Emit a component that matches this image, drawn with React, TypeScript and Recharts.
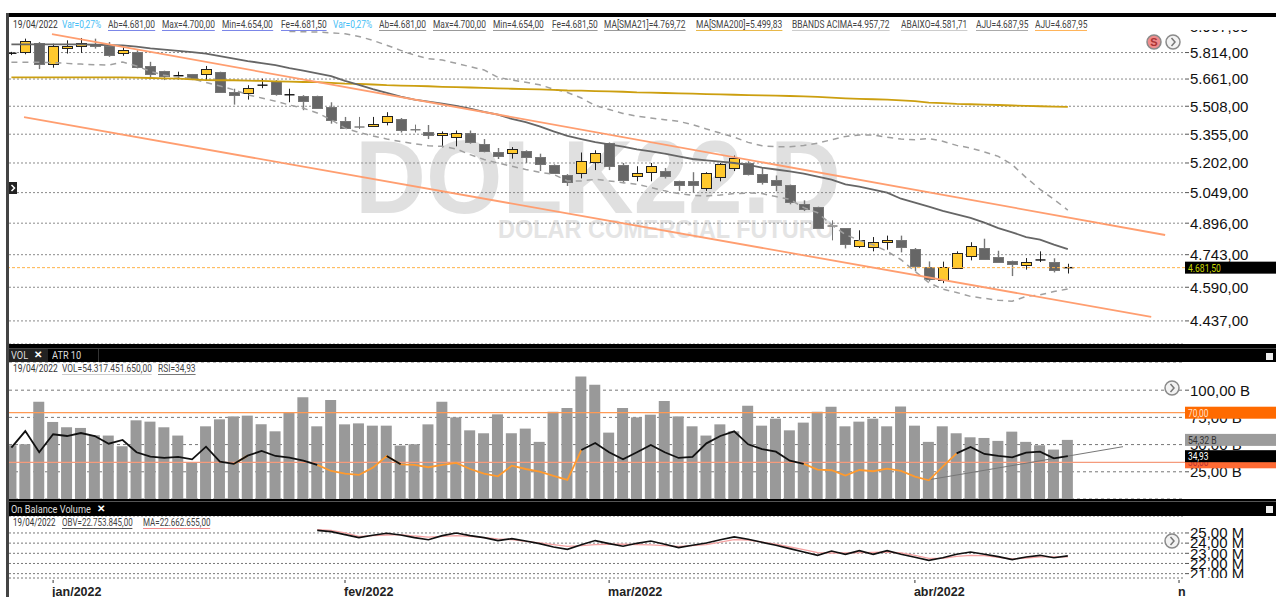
import {
  Bar,
  CartesianGrid,
  ComposedChart,
  Line,
  ReferenceLine,
  XAxis,
  YAxis,
} from 'recharts'

const opens = [5806, 5816, 5872, 5747, 5837, 5855, 5862, 5853, 5808, 5816, 5734, 5707, 5676, 5690, 5688, 5699, 5585, 5580, 5622, 5650, 5565, 5567, 5565, 5506, 5427, 5394, 5397, 5421, 5438, 5379, 5366, 5348, 5341, 5362, 5302, 5260, 5251, 5265, 5232, 5192, 5141, 5151, 5206, 5309, 5193, 5131, 5156, 5160, 5107, 5107, 5069, 5129, 5176, 5202, 5144, 5114, 5086, 4991, 4976, 4882, 4870, 4783, 4780, 4803, 4814, 4770, 4686, 4625, 4680, 4735, 4773, 4734, 4711, 4694, 4711, 4708, 4681]
const closes = [5810, 5880, 5751, 5853, 5851, 5870, 5851, 5799, 5827, 5726, 5690, 5678, 5680, 5665, 5716, 5587, 5567, 5608, 5626, 5578, 5572, 5541, 5499, 5434, 5390, 5388, 5410, 5453, 5379, 5375, 5348, 5359, 5361, 5315, 5263, 5237, 5274, 5234, 5197, 5151, 5103, 5214, 5255, 5187, 5114, 5149, 5187, 5134, 5088, 5088, 5148, 5195, 5229, 5144, 5103, 5088, 4998, 4964, 4872, 4878, 4791, 4814, 4803, 4812, 4778, 4691, 4631, 4685, 4751, 4783, 4722, 4711, 4696, 4710, 4718, 4669, 4681.5]
const highs = [5818, 5896, 5876, 5866, 5886, 5900, 5896, 5876, 5847, 5827, 5760, 5709, 5703, 5690, 5736, 5703, 5606, 5626, 5663, 5655, 5606, 5570, 5567, 5530, 5449, 5449, 5449, 5475, 5443, 5407, 5405, 5370, 5375, 5375, 5329, 5281, 5286, 5269, 5251, 5195, 5144, 5257, 5269, 5311, 5202, 5185, 5202, 5176, 5110, 5154, 5154, 5202, 5241, 5211, 5176, 5137, 5090, 5010, 4978, 4910, 4872, 4861, 4828, 4835, 4835, 4775, 4711, 4710, 4759, 4803, 4820, 4762, 4715, 4727, 4759, 4726, 4700]
const lows = [5799, 5804, 5718, 5726, 5808, 5812, 5837, 5789, 5795, 5722, 5671, 5655, 5659, 5655, 5652, 5585, 5517, 5545, 5609, 5567, 5530, 5486, 5495, 5412, 5383, 5383, 5394, 5403, 5364, 5364, 5329, 5285, 5290, 5304, 5258, 5223, 5225, 5202, 5160, 5148, 5083, 5122, 5165, 5165, 5097, 5107, 5107, 5121, 5058, 5049, 5058, 5107, 5160, 5137, 5090, 5056, 4990, 4956, 4869, 4812, 4773, 4775, 4759, 4767, 4754, 4664, 4617, 4609, 4675, 4716, 4719, 4704, 4642, 4672, 4708, 4659, 4654]

const sma21 = [5862, 5862, 5862, 5862, 5862, 5862, 5860, 5858, 5856, 5849, 5839, 5831, 5824, 5816, 5808, 5793, 5778, 5764, 5753, 5741, 5724, 5709, 5694, 5678, 5650, 5628, 5604, 5582, 5561, 5545, 5534, 5523, 5510, 5495, 5477, 5462, 5438, 5420, 5397, 5370, 5346, 5329, 5313, 5300, 5288, 5274, 5263, 5251, 5237, 5223, 5216, 5209, 5202, 5192, 5178, 5168, 5158, 5146, 5131, 5115, 5091, 5080, 5064, 5049, 5018, 4998, 4978, 4957, 4939, 4922, 4899, 4872, 4851, 4828, 4816, 4791, 4770]
const sma200 = [5671, 5671, 5671, 5671, 5671, 5671, 5671, 5671, 5671, 5669, 5667, 5665, 5663, 5659, 5655, 5654, 5654, 5652, 5650, 5648, 5646, 5644, 5643, 5639, 5635, 5633, 5630, 5626, 5624, 5622, 5620, 5617, 5615, 5613, 5611, 5608, 5606, 5604, 5602, 5600, 5596, 5595, 5593, 5591, 5589, 5585, 5584, 5582, 5580, 5578, 5576, 5574, 5572, 5570, 5569, 5567, 5565, 5563, 5560, 5556, 5552, 5549, 5547, 5545, 5541, 5536, 5528, 5525, 5521, 5519, 5517, 5515, 5512, 5510, 5508, 5506, 5504]
const bbUpper = [null, null, null, null, null, null, null, null, null, null, null, null, null, null, null, null, null, null, null, null, 5939, 5937, 5935, 5931, 5925, 5909, 5886, 5857, 5827, 5799, 5778, 5770, 5751, 5732, 5713, 5671, 5655, 5643, 5628, 5604, 5585, 5554, 5512, 5490, 5468, 5453, 5443, 5434, 5425, 5407, 5383, 5361, 5339, 5311, 5293, 5288, 5288, 5295, 5307, 5325, 5343, 5351, 5351, 5339, 5329, 5325, 5332, 5317, 5295, 5281, 5260, 5237, 5193, 5126, 5066, 5015, 4961]
const bbLower = [5757, 5757, 5757, 5755, 5751, 5747, 5743, 5741, 5759, 5736, 5705, 5682, 5673, 5663, 5641, 5622, 5600, 5572, 5554, 5536, 5515, 5497, 5471, 5434, 5388, 5364, 5346, 5329, 5315, 5304, 5293, 5290, 5276, 5246, 5220, 5202, 5185, 5168, 5154, 5143, 5109, 5109, 5117, 5109, 5100, 5092, 5075, 5058, 5044, 5035, 5032, 5037, 5044, 5047, 5044, 5029, 5015, 4973, 4948, 4888, 4840, 4812, 4791, 4759, 4719, 4664, 4612, 4581, 4566, 4548, 4539, 4530, 4526, 4548, 4555, 4570, 4582]

const volumes = [49.4, 50.3, 89.4, 70.8, 65.9, 65.3, 58.6, 58.3, 48.5, 72.3, 71.1, 65.9, 58.3, 33.9, 66.8, 73.2, 75.9, 76.6, 68.6, 62.2, 79, 93.6, 66.8, 90.9, 68.6, 69.5, 67.4, 67.4, 49.1, 50.3, 68.6, 89.4, 75, 63.1, 60.4, 77.8, 60.4, 64.7, 52.5, 80.2, 83.6, 112.5, 104.9, 61, 83.6, 75, 77.5, 90, 75.9, 66.8, 58.3, 68.6, 62.2, 85.7, 67.4, 73.8, 63.1, 70.2, 80.2, 84.8, 66.8, 71.1, 73.8, 66.8, 85.1, 67.4, 52.5, 66.8, 60.4, 56.7, 56.1, 53.4, 61.9, 52.5, 49.4, 45.4, 54.32]
const rsi = [41.8, 55.2, 38.1, 52.6, 51.2, 53.6, 51.2, 45, 48, 38.1, 34.6, 33.5, 34.3, 32.4, 42.6, 30.5, 28.7, 35.4, 39.1, 35.1, 33.8, 31.3, 27.9, 23, 20.9, 19.8, 25.7, 35.1, 28.4, 27.9, 26, 27.9, 29.5, 24.6, 20.9, 18.7, 27.3, 24.6, 22.5, 19, 15.8, 39.9, 45.6, 38.1, 32.4, 38.1, 44, 38.1, 33.5, 34.3, 45.3, 51.2, 55, 44.5, 40.7, 38.6, 31.3, 28.7, 24.1, 23.6, 19.3, 23.8, 22.8, 24.9, 23, 18.5, 15.5, 26.5, 37.2, 42.3, 36.7, 35.1, 34, 37.8, 38.6, 33.2, 34.93]

const obvStart = 22
const obv = [25.26, 25.13, 24.84, 24.54, 24.77, 24.97, 24.8, 24.54, 24.34, 24.74, 25, 24.74, 24.54, 24.25, 24.44, 24.21, 23.95, 23.62, 23.39, 23.85, 24.25, 23.95, 23.69, 23.98, 24.21, 23.89, 23.56, 23.79, 24.02, 24.34, 24.61, 24.38, 24.08, 23.79, 23.46, 23.13, 22.8, 23.23, 22.9, 23.26, 22.9, 23.26, 22.9, 22.61, 22.31, 22.57, 22.9, 23.13, 22.9, 22.67, 22.38, 22.64, 22.8, 22.57, 22.75]
const obvMa = [25.33, 25.26, 25, 24.67, 24.74, 24.8, 24.84, 24.7, 24.6, 24.67, 24.74, 24.67, 24.54, 24.41, 24.34, 24.18, 24.02, 23.85, 23.69, 23.75, 23.85, 23.89, 23.89, 23.85, 23.82, 23.75, 23.69, 23.75, 23.85, 24.11, 24.34, 24.31, 24.11, 23.89, 23.62, 23.36, 23.07, 23.03, 23.03, 23.07, 23.1, 23.13, 23.03, 22.8, 22.51, 22.51, 22.7, 22.8, 22.77, 22.61, 22.44, 22.54, 22.64, 22.64, 22.66]

const priceTicks = [5967, 5814, 5661, 5508, 5355, 5202, 5049, 4896, 4743, 4590, 4437]
const volumeTicks = [25, 50, 75, 100]
const obvTicks = [21, 22, 23, 24, 25]
const monthTicks = [3, 24, 43, 65, 84]
const monthLabels = ['jan/2022', 'fev/2022', 'mar/2022', 'abr/2022', 'n']

const lastPrice = 4681.5
const lastVolume = 54.32
const lastRsi = 34.93

const upperChannel = [{ x: 2.92, y: 5923 }, { x: 83, y: 4838 }]
const lowerChannel = [{ x: 0.91, y: 5448 }, { x: 82, y: 4455 }]
const rsiTrend = [{ x: 65.94, y: 15.8 }, { x: 79.97, y: 42.6 }]

const priceHeader = [
  { left: 13, text: '19/04/2022', color: '#333' },
  { left: 62, text: 'Var=0,27%', color: '#45bdf5' },
  { left: 108, text: 'Ab=4.681,00', line: '#7b86e8' },
  { left: 162, text: 'Max=4.700,00', line: '#7b86e8' },
  { left: 222, text: 'Min=4.654,00', line: '#7b86e8' },
  { left: 281, text: 'Fe=4.681,50', line: '#7b86e8' },
  { left: 333, text: 'Var=0,27%', color: '#45bdf5' },
  { left: 379, text: 'Ab=4.681,00', line: '#999' },
  { left: 433, text: 'Max=4.700,00', line: '#999' },
  { left: 493, text: 'Min=4.654,00', line: '#999' },
  { left: 552, text: 'Fe=4.681,50', line: '#999' },
  { left: 604, text: 'MA[SMA21]=4.769,72', line: '#999' },
  { left: 696, text: 'MA[SMA200]=5.499,83', line: '#e8b84a' },
  { left: 792, text: 'BBANDS ACIMA=4.957,72', line: '#ccc' },
  { left: 901, text: 'ABAIXO=4.581,71', line: '#ccc' },
  { left: 976, text: 'AJU=4.687,95', line: '#aaa' },
  { left: 1035, text: 'AJU=4.687,95', line: '#ffb45a' },
]
const volumeHeader = [
  { left: 13, text: '19/04/2022', color: '#333' },
  { left: 62, text: 'VOL=54.317.451.650,00', line: '#ccc' },
  { left: 158, text: 'RSI=34,93', line: '#777' },
]
const obvHeader = [
  { left: 13, text: '19/04/2022', color: '#333' },
  { left: 62, text: 'OBV=22.753.845,00', line: '#555' },
  { left: 143, text: 'MA=22.662.655,00', line: '#f08a8a' },
]

const W = 1276
const PLOT_LEFT = 9
const AXIS_W = 91
const X_DOMAIN: [number, number] = [-0.173, 84.43]
const VOL_DOMAIN: [number, number] = [0, 125.9]
const RSI_DOMAIN: [number, number] = [0.4, 110.9]
const AXIS_FONT = '"Liberation Sans", Arial, sans-serif'
const UI_FONT = 'Roboto, sans-serif'
// the terminal's UI font is narrower than anything installed
const NARROW = { transform: 'scaleX(0.8)', transformOrigin: 'left center' }

const candleRows = opens.map((open, i) => ({
  i,
  open,
  close: closes[i],
  range: [lows[i], highs[i]],
  sma21: sma21[i],
  sma200: sma200[i],
  bbUpper: bbUpper[i],
  bbLower: bbLower[i],
}))

// a stretch of the RSI is black when it leaves a point above 30, orange otherwise
const volumeRows = volumes.map((volume, i) => ({
  i,
  volume,
  rsiDark: rsi[i] >= 30 || rsi[i - 1] >= 30 ? rsi[i] : null,
  rsiLight: rsi[i] < 30 || rsi[i - 1] < 30 ? rsi[i] : null,
}))

const obvRows = obv.map((value, k) => ({ i: k + obvStart, obv: value, ma: obvMa[k] }))

const money = (v: number) =>
  v.toLocaleString('pt-BR', { minimumFractionDigits: 2, maximumFractionDigits: 2 })

function Candle(props: any) {
  const { x, y, width, height, payload } = props
  const top = Math.min(y, y + height)
  const span = Math.abs(height)
  const [low, high] = payload.range
  const yAt = (v: number) => top + (span * Math.log(high / v)) / Math.log(high / low)
  const up = payload.close >= payload.open
  const bodyTop = yAt(Math.max(payload.open, payload.close))
  const bodyBottom = yAt(Math.min(payload.open, payload.close))
  const cx = Math.round(x + width / 2) + 0.5
  const left = Math.round(x) + 0.5
  const bodyH = bodyBottom - bodyTop
  const wick = up ? '#222' : '#777'

  if (bodyH < 1.6) {
    return (
      <g>
        <line x1={cx} x2={cx} y1={top} y2={top + span} stroke={wick} />
        <line x1={left} x2={left + 10} y1={bodyTop} y2={bodyTop} stroke={up ? '#111' : '#777'} strokeWidth={1.4} />
      </g>
    )
  }
  return (
    <g>
      <line x1={cx} x2={cx} y1={top} y2={top + span} stroke={wick} strokeWidth={up ? 1 : 1.4} />
      <rect
        x={left}
        y={Math.round(bodyTop) + 0.5}
        width={10}
        height={Math.max(Math.round(bodyH), 1)}
        fill={up ? '#ffc92e' : '#666'}
        stroke={up ? '#222' : '#777'}
      />
    </g>
  )
}

function Tag(props: any) {
  const { viewBox, text, fill, color, height = 12 } = props
  return (
    <g>
      <rect x={viewBox.x + viewBox.width} y={viewBox.y - height / 2} width={AXIS_W} height={height} fill={fill} />
      <text
        x={viewBox.x + viewBox.width + 3}
        y={viewBox.y + 4}
        fontSize={11}
        fontFamily={UI_FONT}
        fill={color}
        textLength={text.length * 4.1}
        lengthAdjust="spacingAndGlyphs"
      >
        {text}
      </text>
    </g>
  )
}

function MonthTick(props: any) {
  const { x, y, payload } = props
  const label = monthLabels[monthTicks.indexOf(payload.value)]
  return (
    <g>
      <line x1={x} x2={x} y1={y - 3} y2={y} stroke="#333" />
      <text x={x - 1} y={y + 13} fontSize={12.5} fontWeight={700} fontFamily={AXIS_FONT} fill="#222">
        {label}
      </text>
    </g>
  )
}

function HeaderRow({ top, items, size = 10.5 }: { top: number; items: any[]; size?: number }) {
  return (
    <>
      {items.map((item) => (
        <span
          key={`${item.left}-${item.text}`}
          style={{
            ...NARROW,
            position: 'absolute',
            left: item.left,
            top,
            fontFamily: UI_FONT,
            fontSize: size,
            lineHeight: '11px',
            whiteSpace: 'nowrap',
            color: item.color ?? '#444',
            borderBottom: item.line ? `1px solid ${item.line}` : undefined,
          }}
        >
          {item.text}
        </span>
      ))}
    </>
  )
}

function Box({ left, top, width, height, bg }: { left: number; top: number; width: number; height: number; bg: string }) {
  return <div style={{ position: 'absolute', left, top, width, height, background: bg }} />
}

function RoundIcon({ left, top, label }: { left: number; top: number; label?: string }) {
  return (
    <svg style={{ position: 'absolute', left, top }} width={18} height={18}>
      <circle cx={9} cy={9} r={7} fill={label ? '#f08c8c' : '#f2f2f2'} stroke="#8a8a8a" strokeWidth={1.5} />
      {label ? (
        <text x={9} y={13} textAnchor="middle" fontSize={11} fontWeight={700} fontFamily={AXIS_FONT} fill="#a33">
          {label}
        </text>
      ) : (
        <path d="M7.5 5 L11 9 L7.5 13" fill="none" stroke="#777" strokeWidth={1.5} />
      )}
    </svg>
  )
}

function TabText({ left, top, text, crossAt }: { left: number; top: number; text: string; crossAt?: number }) {
  return (
    <>
      <span
        style={{
          ...NARROW,
          position: 'absolute',
          left,
          top,
          color: '#ddd',
          fontFamily: UI_FONT,
          fontSize: 11.5,
          lineHeight: '12px',
          whiteSpace: 'nowrap',
        }}
      >
        {text}
      </span>
      {crossAt ? (
        <b
          style={{
            position: 'absolute',
            left: crossAt,
            top,
            color: '#fff',
            fontFamily: AXIS_FONT,
            fontSize: 10,
            lineHeight: '12px',
          }}
        >
          ✕
        </b>
      ) : null}
    </>
  )
}

const axisTick = { fontSize: 15, fontFamily: AXIS_FONT, fill: '#111', textAnchor: 'start' }

export default function App() {
  return (
    <div style={{ position: 'absolute', left: 0, top: 0, width: W, height: 597, overflow: 'hidden', background: '#fff' }}>
      {/* watermark sits under the transparent charts */}
      <svg style={{ position: 'absolute', left: 0, top: 0 }} width={W} height={345}>
        <text
          x={355}
          y={213}
          fontSize={103}
          fontWeight={700}
          fontFamily={AXIS_FONT}
          fill="#e0e0e0"
          textLength={486}
          lengthAdjust="spacingAndGlyphs"
        >
          DOLK22.D
        </text>
        <text
          x={498}
          y={238}
          fontSize={25}
          fontWeight={700}
          fontFamily={AXIS_FONT}
          fill="#e4e4e4"
          textLength={336}
          lengthAdjust="spacingAndGlyphs"
        >
          DOLAR COMERCIAL FUTURO
        </text>
      </svg>

      <div style={{ position: 'absolute', left: 0, top: 0 }}>
        <ComposedChart
          width={W}
          height={345}
          data={candleRows}
          margin={{ top: 17, right: 0, bottom: 1, left: PLOT_LEFT }}
          barSize={10}
        >
          <CartesianGrid horizontal vertical={false} stroke="#8a8a8a" strokeDasharray="2 2" />
          <XAxis dataKey="i" type="number" domain={X_DOMAIN} allowDataOverflow hide />
          <YAxis
            orientation="right"
            width={AXIS_W}
            scale="log"
            domain={[4335, 6026]}
            allowDataOverflow
            ticks={priceTicks}
            interval={0}
            tickFormatter={money}
            tick={axisTick}
            tickSize={4}
            tickMargin={1}
            tickLine={{ stroke: '#555' }}
            axisLine={false}
          />
          <ReferenceLine
            y={lastPrice}
            stroke="#ffb347"
            strokeDasharray="3 2"
            label={<Tag text={money(lastPrice)} fill="#000" color="#c8d400" />}
          />
          <Bar dataKey="range" shape={<Candle />} isAnimationActive={false} />
          <Line dataKey="bbUpper" stroke="#a0a0a0" strokeWidth={1.5} strokeDasharray="6 5" dot={false} isAnimationActive={false} />
          <Line dataKey="bbLower" stroke="#a0a0a0" strokeWidth={1.5} strokeDasharray="6 5" dot={false} isAnimationActive={false} />
          <Line dataKey="sma200" stroke="#cc9f10" strokeWidth={1.8} dot={false} isAnimationActive={false} />
          <Line dataKey="sma21" stroke="#666" strokeWidth={1.8} dot={false} isAnimationActive={false} />
          <ReferenceLine segment={upperChannel} stroke="#ff9e70" strokeWidth={1.8} />
          <ReferenceLine segment={lowerChannel} stroke="#ff9e70" strokeWidth={1.8} />
        </ComposedChart>
      </div>

      <div style={{ position: 'absolute', left: 0, top: 362 }}>
        <ComposedChart
          width={W}
          height={137}
          data={volumeRows}
          margin={{ top: 0, right: 0, bottom: 0, left: PLOT_LEFT }}
          barSize={11}
        >
          <CartesianGrid horizontal vertical={false} yAxisId="vol" stroke="#777" strokeDasharray="3 3" />
          <XAxis dataKey="i" type="number" domain={X_DOMAIN} allowDataOverflow hide />
          <YAxis
            yAxisId="vol"
            orientation="right"
            width={AXIS_W}
            domain={VOL_DOMAIN}
            allowDataOverflow
            ticks={volumeTicks}
            interval={0}
            tickFormatter={(v: number) => `${money(v)} B`}
            tick={axisTick}
            tickSize={4}
            tickMargin={1}
            tickLine={{ stroke: '#555' }}
            axisLine={false}
          />
          <YAxis yAxisId="rsi" hide domain={RSI_DOMAIN} allowDataOverflow />
          <Bar yAxisId="vol" dataKey="volume" fill="#999" isAnimationActive={false} />
          <ReferenceLine yAxisId="rsi" y={70} stroke="#ff9a55" strokeWidth={1.2} />
          <ReferenceLine yAxisId="rsi" y={30} stroke="#f59b7c" strokeWidth={1.2} />
          <ReferenceLine yAxisId="rsi" segment={rsiTrend} stroke="#777" strokeWidth={1} />
          <Line yAxisId="rsi" dataKey="rsiLight" stroke="#ff9a2e" strokeWidth={1.8} dot={false} isAnimationActive={false} />
          <Line yAxisId="rsi" dataKey="rsiDark" stroke="#111" strokeWidth={1.8} dot={false} isAnimationActive={false} />
        </ComposedChart>
      </div>

      {/* the last-value tags cover the tick labels, so they get their own chart on top */}
      <div style={{ position: 'absolute', left: 0, top: 362 }}>
        <ComposedChart
          width={W}
          height={137}
          data={volumeRows}
          margin={{ top: 0, right: AXIS_W, bottom: 0, left: PLOT_LEFT }}
        >
          <XAxis dataKey="i" type="number" domain={X_DOMAIN} allowDataOverflow hide />
          <YAxis yAxisId="vol" hide domain={VOL_DOMAIN} allowDataOverflow />
          <YAxis yAxisId="rsi" hide domain={RSI_DOMAIN} allowDataOverflow />
          <ReferenceLine yAxisId="vol" y={lastVolume} stroke="none" label={<Tag text={`${money(lastVolume)} B`} fill="#9c9c9c" color="#333" />} />
          <ReferenceLine yAxisId="rsi" y={70} stroke="none" label={<Tag text="70,00" fill="#ff6a00" color="#ffe0c8" />} />
          <ReferenceLine yAxisId="rsi" y={30} stroke="none" label={<Tag text="30,00" fill="#ff6a33" color="#b33" />} />
          <ReferenceLine yAxisId="rsi" y={lastRsi} stroke="none" label={<Tag text={money(lastRsi)} fill="#000" color="#fff" />} />
        </ComposedChart>
      </div>

      <div style={{ position: 'absolute', left: 0, top: 516 }}>
        <ComposedChart
          width={W}
          height={81}
          data={obvRows}
          margin={{ top: 0, right: 0, bottom: 0, left: PLOT_LEFT }}
        >
          <CartesianGrid horizontal vertical={false} stroke="#777" strokeDasharray="2 2" />
          <XAxis
            dataKey="i"
            type="number"
            domain={X_DOMAIN}
            allowDataOverflow
            ticks={monthTicks}
            interval={0}
            height={19}
            tick={<MonthTick />}
            tickLine={false}
            tickSize={3}
            axisLine={false}
          />
          <YAxis
            orientation="right"
            width={AXIS_W}
            domain={[20.57, 26.67]}
            allowDataOverflow
            ticks={obvTicks}
            interval={0}
            tickFormatter={(v: number) => `${money(v)} M`}
            tick={axisTick}
            tickSize={4}
            tickMargin={1}
            tickLine={{ stroke: '#555' }}
            axisLine={false}
          />
          <Line dataKey="ma" stroke="#f5a3a3" strokeWidth={1.3} dot={false} isAnimationActive={false} />
          <Line dataKey="obv" stroke="#111" strokeWidth={1.6} dot={false} isAnimationActive={false} />
        </ComposedChart>
      </div>

      {/* terminal window chrome around the panels */}
      <Box left={9} top={17} width={W - 9} height={13} bg="#fff" />
      <Box left={1186} top={578} width={90} height={19} bg="#fff" />
      <Box left={6} top={13} width={W - 6} height={4} bg="#000" />
      <Box left={6} top={344} width={W - 6} height={18} bg="#000" />
      <Box left={6} top={348} width={W - 6} height={1} bg="#444" />
      <Box left={6} top={499} width={W - 6} height={17} bg="#000" />
      <Box left={6} top={501} width={W - 6} height={1} bg="#555" />
      <Box left={6} top={13} width={3} height={584} bg="#444" />
      <Box left={9} top={182} width={8} height={12} bg="#222" />
      <svg style={{ position: 'absolute', left: 9, top: 182 }} width={8} height={12}>
        <path d="M2.5 3 L5.5 6 L2.5 9" fill="none" stroke="#fff" strokeWidth={1.5} />
      </svg>
      <Box left={1266} top={353} width={7} height={7} bg="#eee" />
      <Box left={1266} top={506} width={7} height={7} bg="#eee" />
      <Box left={9} top={349} width={39} height={13} bg="#222" />
      <Box left={98} top={349} width={1} height={13} bg="#333" />
      <TabText left={11} top={349} text="VOL" crossAt={34} />
      <TabText left={52} top={349} text="ATR 10" />
      <TabText left={11} top={503} text="On Balance Volume" crossAt={97} />

      <HeaderRow top={19} items={priceHeader} />
      <HeaderRow top={363} items={volumeHeader} />
      <HeaderRow top={517} items={obvHeader} size={10} />

      <RoundIcon left={1145} top={33} label="S" />
      <RoundIcon left={1164} top={33} />
      <RoundIcon left={1163} top={379} />
      <RoundIcon left={1163} top={532} />
    </div>
  )
}
